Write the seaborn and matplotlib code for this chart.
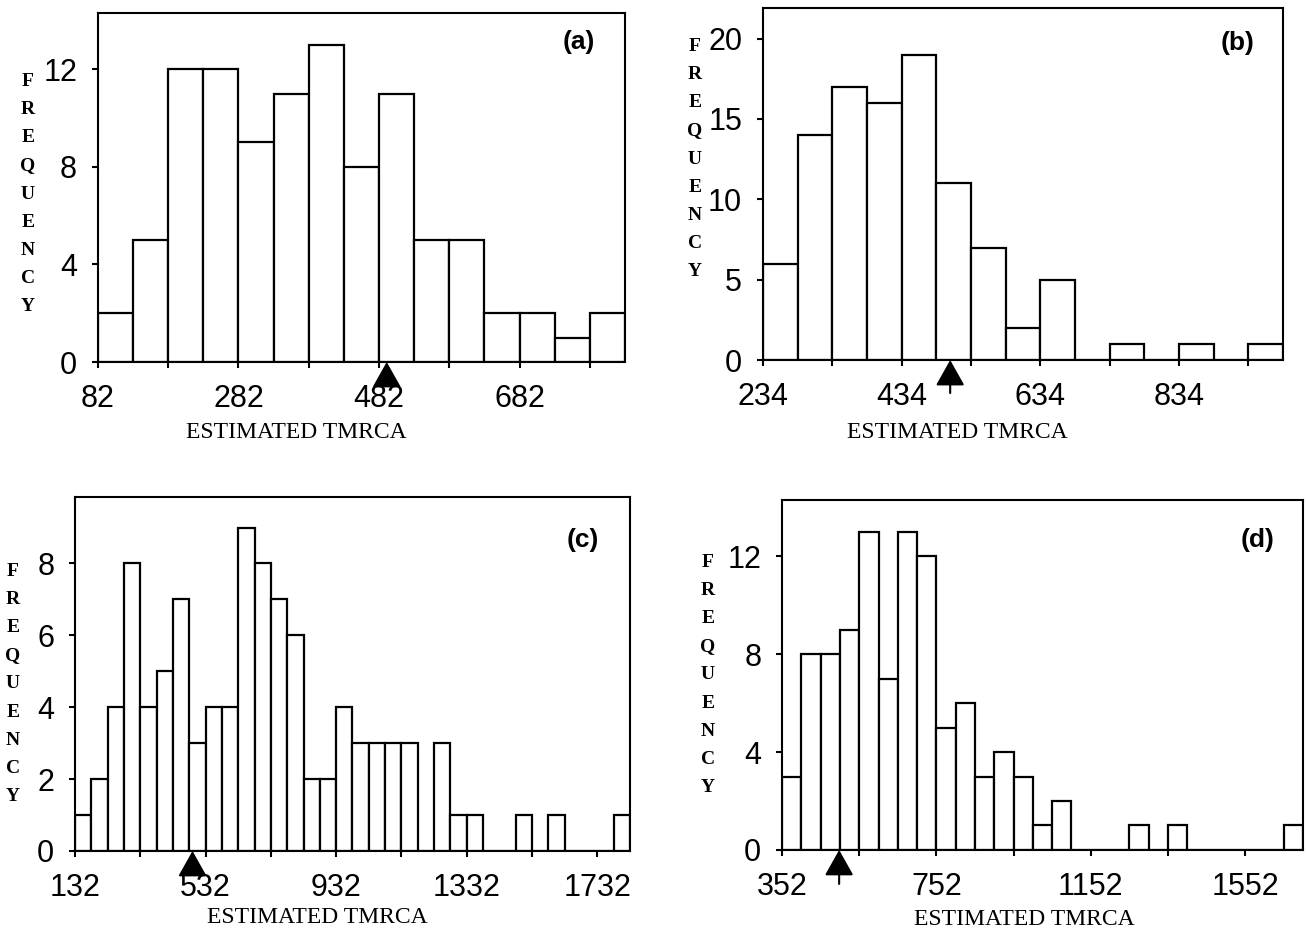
import numpy as np
import pandas as pd
import matplotlib
matplotlib.use("Agg")
import matplotlib.pyplot as plt
import seaborn as sns

# counts per 50-year bin
bin_width = 50
start_a, start_b, start_c, start_d = 82, 234, 132, 352
counts_a = [2, 5, 12, 12, 9, 11, 13, 8, 11, 5, 5, 2, 2, 1, 2]
counts_b = [6, 14, 17, 16, 19, 11, 7, 2, 5, 0, 1, 0, 1, 0, 1]
counts_c = [1, 2, 4, 8, 4, 5, 7, 3, 4, 4, 9, 8, 7, 6, 2, 2, 4, 3, 3, 3,
            3, 0, 3, 1, 1, 0, 0, 1, 0, 1, 0, 0, 0, 1]
counts_d = [3, 8, 8, 9, 13, 7, 13, 12, 5, 6, 3, 4, 3, 1, 2, 0, 0, 0, 1, 0,
            1, 0, 0, 0, 0, 0, 1]

# true value marked by the arrow under each axis
arrow_a, arrow_b, arrow_c, arrow_d = 493, 504, 492, 500

xticks_a = [82, 282, 482, 682]
xticks_b = [234, 434, 634, 834]
xticks_c = [132, 532, 932, 1332, 1732]
xticks_d = [352, 752, 1152, 1552]
minor_a = [182, 382, 582, 782]
minor_b = [334, 534, 734, 934]
minor_c = [332, 732, 1132, 1532]
minor_d = [552, 952, 1352]
yticks_a = [0, 4, 8, 12]
yticks_b = [0, 5, 10, 15, 20]
yticks_c = [0, 2, 4, 6, 8]
yticks_d = [0, 4, 8, 12]

sns.set_style("ticks")
plt.rcParams["font.family"] = ["Liberation Sans Narrow", "Liberation Sans", "DejaVu Sans"]
plt.rcParams["axes.linewidth"] = 1.5
plt.rcParams["axes.edgecolor"] = "black"
for key in ["text.color", "axes.labelcolor", "xtick.color", "ytick.color"]:
    plt.rcParams[key] = "black"

NUM = ["Liberation Sans Narrow", "Liberation Sans", "DejaVu Sans"]
SERIF = ["Liberation Serif", "DejaVu Serif"]

fig = plt.figure(figsize=(13.06, 9.33), dpi=100)


def hist_panel(pos, start, counts, tag, arrow_x, stem, xt, xt_minor, yt, ytop,
               xlab_pos, freq_pos, tag_pos):
    ax = fig.add_axes(pos)
    edges = [start + bin_width * i for i in range(len(counts) + 1)]
    df = pd.DataFrame({"tmrca": [e + bin_width / 2 for e in edges[:-1]], "n": counts})
    sns.histplot(data=df, x="tmrca", weights="n", bins=edges, ax=ax,
                 color="white", edgecolor="black", linewidth=1.6, alpha=1)
    ax.set_xlim(edges[0], edges[-1])
    ax.set_ylim(0, ytop)

    ax.set_xticks(xt)
    ax.set_xticks(xt_minor, minor=True)
    ax.set_yticks(yt)
    ax.tick_params(axis="both", which="both", direction="out", length=4,
                   width=1.5, color="black", labelcolor="black", labelsize=22,
                   bottom=True, left=True, top=False, right=False)
    ax.tick_params(axis="x", pad=12)
    ax.tick_params(axis="y", pad=11)
    for lab in ax.get_xticklabels() + ax.get_yticklabels():
        lab.set_family(NUM)
    for s in ax.spines.values():
        s.set_visible(True)
        s.set_linewidth(1.5)
        s.set_color("black")

    ax.set_xlabel("ESTIMATED TMRCA", family=SERIF, fontsize=17, va="center",
                  color="black")
    ax.xaxis.set_label_coords(*xlab_pos)
    ax.set_ylabel("\n".join("FREQUENCY"), family=SERIF, fontweight="bold",
                  fontsize=14, rotation=0, va="center", ha="center",
                  linespacing=1.86, color="black")
    ax.yaxis.set_label_coords(*freq_pos)

    ax.text(tag_pos[0], tag_pos[1], tag, transform=ax.transAxes,
            fontsize=19, fontweight="bold", ha="center", va="center",
            color="black", family=["Liberation Sans", "DejaVu Sans"])

    ax.annotate("", xy=(arrow_x, 0), xycoords="data",
                xytext=(0, -stem), textcoords="offset pixels",
                annotation_clip=False,
                arrowprops=dict(arrowstyle="-|>,head_length=1.6,head_width=0.9",
                                mutation_scale=10, color="black", lw=1.5,
                                shrinkA=0, shrinkB=0))
    return ax


hist_panel([0.0750, 0.6120, 0.4035, 0.3741], start_a, counts_a, "(a)", arrow_a, 23,
           xticks_a, minor_a, yticks_a, 14.3,
           (0.376, -0.203), (-0.133, 0.481), (0.913, 0.917))
hist_panel([0.5842, 0.6141, 0.3982, 0.3773], start_b, counts_b, "(b)", arrow_b, 33,
           xticks_b, minor_b, yticks_b, 21.9,
           (0.373, -0.207), (-0.131, 0.571), (0.912, 0.900))
hist_panel([0.0574, 0.0879, 0.4250, 0.3794], start_c, counts_c, "(c)", arrow_c, 23,
           xticks_c, minor_c, yticks_c, 9.85,
           (0.436, -0.189), (-0.112, 0.472), (0.915, 0.879))
hist_panel([0.5988, 0.0890, 0.3989, 0.3751], start_d, counts_d, "(d)", arrow_d, 34,
           xticks_d, minor_d, yticks_d, 14.3,
           (0.466, -0.200), (-0.142, 0.500), (0.912, 0.886))

fig.savefig("out.png", dpi=100)
